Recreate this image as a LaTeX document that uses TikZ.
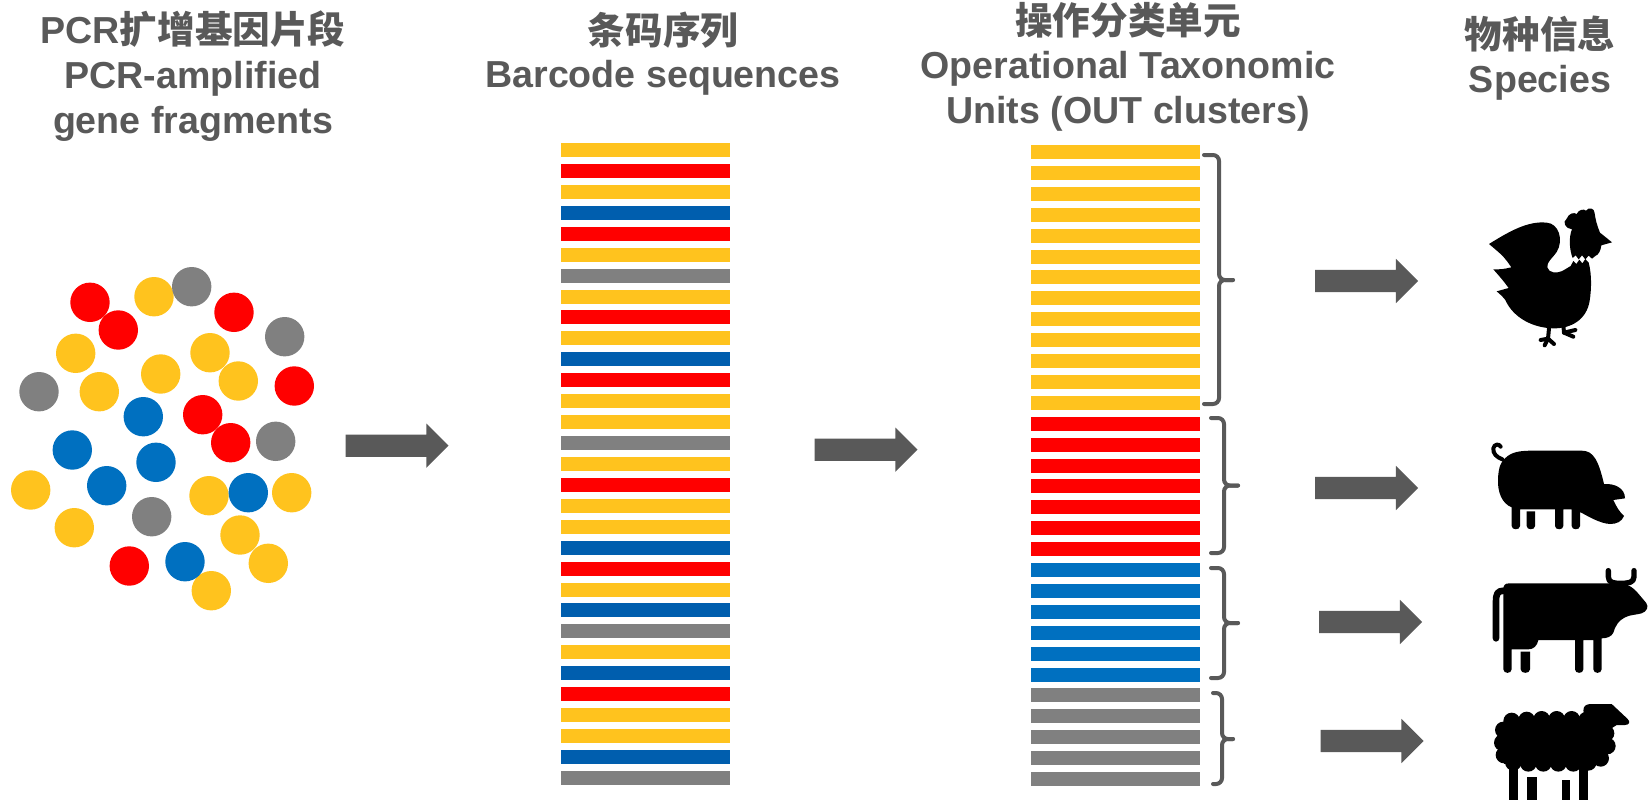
\documentclass[tikz,border=0pt]{standalone}
\usepackage{fontspec}
\setmainfont{Liberation Sans}
\newfontfamily\cjk{Noto Sans CJK SC}

\definecolor{cyel}{HTML}{FFC31E}
\definecolor{cred}{HTML}{FF0000}
\definecolor{cblu}{HTML}{0070C0}
\definecolor{cbld}{HTML}{005EAE}
\definecolor{cgry}{HTML}{808080}
\definecolor{ink}{HTML}{595959}

% block arrow pointing right, centred on a named coordinate
\newcommand\flowarrow[2]{%
  \coordinate (#1) at (#2);
  \fill[ink, shift={(#1)}] (-51.5,-11.2) -- (29.3,-11.2) -- (29.3,-22.2) -- (51.5,0)
    -- (29.3,22.2) -- (29.3,11.2) -- (-51.5,11.2) -- cycle;}

\begin{document}
\begin{tikzpicture}[x=0.5pt,y=-0.5pt,
  title/.style={text=ink, font=\fontsize{18.8pt}{22pt}\selectfont\bfseries, anchor=base, inner sep=0pt},
  dot/.style={circle, inner sep=0pt, outer sep=0pt, minimum size=19.7pt, draw=none},
  bar/.style={rectangle, inner sep=0pt, outer sep=0pt, minimum width=84.5pt, minimum height=7pt, draw=none},
  brace/.style={draw=ink, line width=2pt, rounded corners=3pt, line cap=round},
  animal/.style={fill=black},
  limb/.style={draw=black, line cap=round, line join=round},
]
\useasboundingbox (0,0) rectangle (1649,803);

% ---- column titles ----
\node[title] (t1a) at (193,43) {PCR{\cjk 扩增基因片段}};
\node[title] (t1b) at (193,88.5) {PCR-amplified};
\node[title] (t1c) at (193,133) {gene fragments};
\node[title] (t2a) at (663,44.5) {\cjk 条码序列};
\node[title] (t2b) at (663,87.5) {Barcode sequences};
\node[title] (t3a) at (1128,34) {\cjk 操作分类单元};
\node[title] (t3b) at (1128,78) {Operational Taxonomic};
\node[title] (t3c) at (1128,123.5) {Units (OUT clusters)};
\node[title] (t4a) at (1540,48) {\cjk 物种信息};
\node[title] (t4b) at (1540,92) {Species};

% ---- pool of amplified fragments ----
\foreach \x/\y/\c [count=\i] in {
  90.0/302.3/cred, 118.3/330.0/cred, 154.0/296.7/cyel, 191.7/286.7/cgry,
  234.0/312.3/cred, 284.7/336.7/cgry, 75.7/353.3/cyel, 210.0/352.7/cyel,
  160.7/374.0/cyel, 238.3/381.0/cyel, 294.3/386.0/cred, 39.0/391.7/cgry,
  99.3/391.7/cyel, 143.3/416.7/cblu, 202.7/414.7/cred, 230.7/442.7/cred,
  275.7/441.3/cgry, 72.3/450.0/cblu, 156.0/462.3/cblu, 106.7/485.7/cblu,
  30.7/490.0/cyel, 209.0/495.7/cyel, 248.3/492.7/cblu, 291.7/492.7/cyel,
  151.7/516.7/cgry, 74.3/527.7/cyel, 240.0/535.0/cyel, 129.3/566.0/cred,
  211.3/590.7/cyel, 185.0/561.7/cblu, 268.3/563.3/cyel}
  \node[dot, fill=\c] (dot\i) at (\x,\y) {};

% ---- barcode sequences ----
\foreach \c [count=\i] in {cyel,cred,cyel,cbld,cred,cyel,cgry,cyel,cred,cyel,cbld,cred,cyel,cyel,cgry,cyel,cred,cyel,cyel,cbld,cred,cyel,cbld,cgry,cyel,cbld,cred,cyel,cyel,cbld,cgry}
  \node[bar, fill=\c] (bc\i) at (645.5,{150+20.93*(\i-1)}) {};

% ---- OTU clusters ----
\foreach \c [count=\i] in {cyel,cyel,cyel,cyel,cyel,cyel,cyel,cyel,cyel,cyel,cyel,cyel,cyel,cred,cred,cred,cred,cred,cred,cred,cblu,cblu,cblu,cblu,cblu,cblu,cgry,cgry,cgry,cgry,cgry}
  \node[bar, fill=\c] (otu\i) at (1115.5,{152+20.9*(\i-1)}) {};

% ---- cluster braces ----
\draw[brace] (1204,155) -- (1219,155) -- (1219,280) -- (1233,280);
\draw[brace] (1204,404) -- (1219,404) -- (1219,280) -- (1233,280);
\draw[brace] (1211,418) -- (1224,418) -- (1224,485.5) -- (1238,485.5);
\draw[brace] (1211,553) -- (1224,553) -- (1224,485.5) -- (1238,485.5);
\draw[brace] (1211,568) -- (1224,568) -- (1224,623) -- (1238,623);
\draw[brace] (1211,678) -- (1224,678) -- (1224,623) -- (1238,623);
\draw[brace] (1213,693) -- (1222,693) -- (1222,739) -- (1233,739);
\draw[brace] (1213,784) -- (1222,784) -- (1222,739) -- (1233,739);

% ---- flow arrows ----
\flowarrow{a1}{397,445.7}
\flowarrow{a2}{866,449.7}
\flowarrow{a3}{1366.5,281}
\flowarrow{a4}{1366.5,488}
\flowarrow{a5}{1370.5,622}
\flowarrow{a6}{1372,741}

% ---- rooster ----
\begin{scope}[shift={(1300,190)}, scale=1/3]
\fill[animal] (740,98)
  .. controls (776,100) and (792,150) .. (770,186)
  .. controls (756,206) and (740,216) .. (742,232)
  .. controls (746,250) and (772,252) .. (792,240)
  -- (812,228) -- (820,213) -- (829,222) -- (838,209) -- (847,220) -- (856,207) -- (866,218)
  .. controls (876,255) and (874,300) .. (869,332)
  .. controls (860,390) and (812,416) .. (760,415)
  .. controls (700,414) and (640,384) .. (616,330)
  .. controls (606,318) .. (590,304)
  .. controls (606,300) .. (626,294)
  .. controls (608,270) .. (580,238)
  .. controls (606,238) .. (634,232)
  .. controls (612,200) .. (567,162)
  .. controls (628,124) and (684,92) .. cycle;
\fill[animal] (818,204)
  .. controls (808,180) and (806,140) .. (816,118)
  .. controls (796,116) and (786,96) .. (800,86)
  .. controls (806,70) and (822,66) .. (830,72)
  .. controls (836,58) and (852,56) .. (858,62)
  .. controls (866,50) and (884,54) .. (884,70)
  .. controls (886,86) and (890,104) .. (900,128)
  -- (936,157) -- (904,166)
  .. controls (902,182) and (896,194) .. (886,198)
  -- (876,206) -- (866,197) -- (856,208) -- (846,196) -- (836,208) -- (827,196) -- cycle;
\draw[limb, line width=2pt] (748,405) -- (744,446) -- (722,450);
\draw[limb, line width=2pt] (744,446) -- (734,466);
\draw[limb, line width=2pt] (744,446) -- (762,462);
\draw[limb, line width=2pt] (790,405) -- (792,428) -- (826,420);
\draw[limb, line width=2pt] (792,428) -- (820,440);
\end{scope}

% ---- pig, cow, sheep ----
\begin{scope}[shift={(1300,420)}, scale=1/3]
% pig
\fill[animal] (615,115) .. controls (635,95) and (660,92) .. (700,92) -- (845,92)
  .. controls (880,92) and (895,120) .. (912,192)
  .. controls (945,190) and (975,205) .. (975,235) -- (940,240)
  .. controls (950,262) and (958,275) .. (972,288)
  .. controls (965,305) and (950,312) .. (930,312)
  .. controls (900,310) and (870,292) .. (840,276)
  -- (840,318) .. controls (840,331) and (815,331) .. (815,318) -- (815,268)
  -- (790,268) -- (790,318) .. controls (790,331) and (765,331) .. (765,318) -- (765,268)
  -- (660,268) -- (660,318) .. controls (660,331) and (635,331) .. (635,318) -- (635,262)
  .. controls (605,250) and (592,215) .. (594,175)
  .. controls (596,140) and (603,125) .. cycle;
\fill[animal] (680,274) -- (705,274) -- (705,318) .. controls (705,331) and (680,331) .. (680,318) -- cycle;
\draw[limb, line width=2pt] (607,118) .. controls (590,112) and (578,100) .. (580,85)
  .. controls (582,72) and (598,70) .. (602,80);
% cow
\fill[animal] (628,490) -- (965,490)
  .. controls (990,495) and (1000,505) .. (1010,515) -- (1038,548)
  .. controls (1048,560) and (1040,575) .. (1025,580)
  .. controls (1005,585) and (990,585) .. (980,590)
  .. controls (955,600) and (945,620) .. (940,638)
  .. controls (935,650) and (920,655) .. (905,655)
  -- (905,748) .. controls (905,762) and (880,762) .. (880,748) -- (880,660)
  -- (850,660) -- (850,748) .. controls (850,762) and (825,762) .. (825,748) -- (825,660)
  -- (715,660) .. controls (712,678) and (700,688) .. (685,688)
  -- (635,688) -- (635,748) .. controls (635,762) and (610,762) .. (610,748)
  -- (610,510) .. controls (610,495) and (615,490) .. cycle;
\fill[animal] (662,695) -- (690,695) -- (690,748) .. controls (690,762) and (662,762) .. (662,748) -- cycle;
\draw[limb, line width=3.3pt] (612,512) .. controls (592,512) and (588,522) .. (588,545) -- (588,655);
\draw[limb, line width=2.7pt] (925,452) -- (925,470) .. controls (925,488) and (940,490) .. (962,490)
  .. controls (985,490) and (1002,488) .. (1002,470) -- (1002,452);
% sheep: woolly body made of overlapping puffs
\fill[animal] (612,900) rectangle (922,1032);
\foreach \x/\y in {635/903,680/900,725/898,770/898,815/898,860/900,
                   610/930,607/968,612/1005,
                   640/1027,685/1030,730/1030,775/1030,820/1030,865/1027,902/1015,
                   918/940,922/978}
  \fill[animal] (\x,\y) circle[radius=25];
\fill[animal] (850,872) .. controls (850,856) and (860,852) .. (875,852) -- (935,852)
  -- (982,896) .. controls (992,905) and (988,915) .. (975,915) -- (950,915)
  -- (930,928) -- (870,930) -- cycle;
\fill[animal] (628,1030) rectangle (655,1141);
\fill[animal] (838,1030) rectangle (865,1141);
\fill[animal] (682,1072) rectangle (710,1141);
\fill[animal] (785,1080) rectangle (810,1141);
\end{scope}
\end{tikzpicture}
\end{document}
